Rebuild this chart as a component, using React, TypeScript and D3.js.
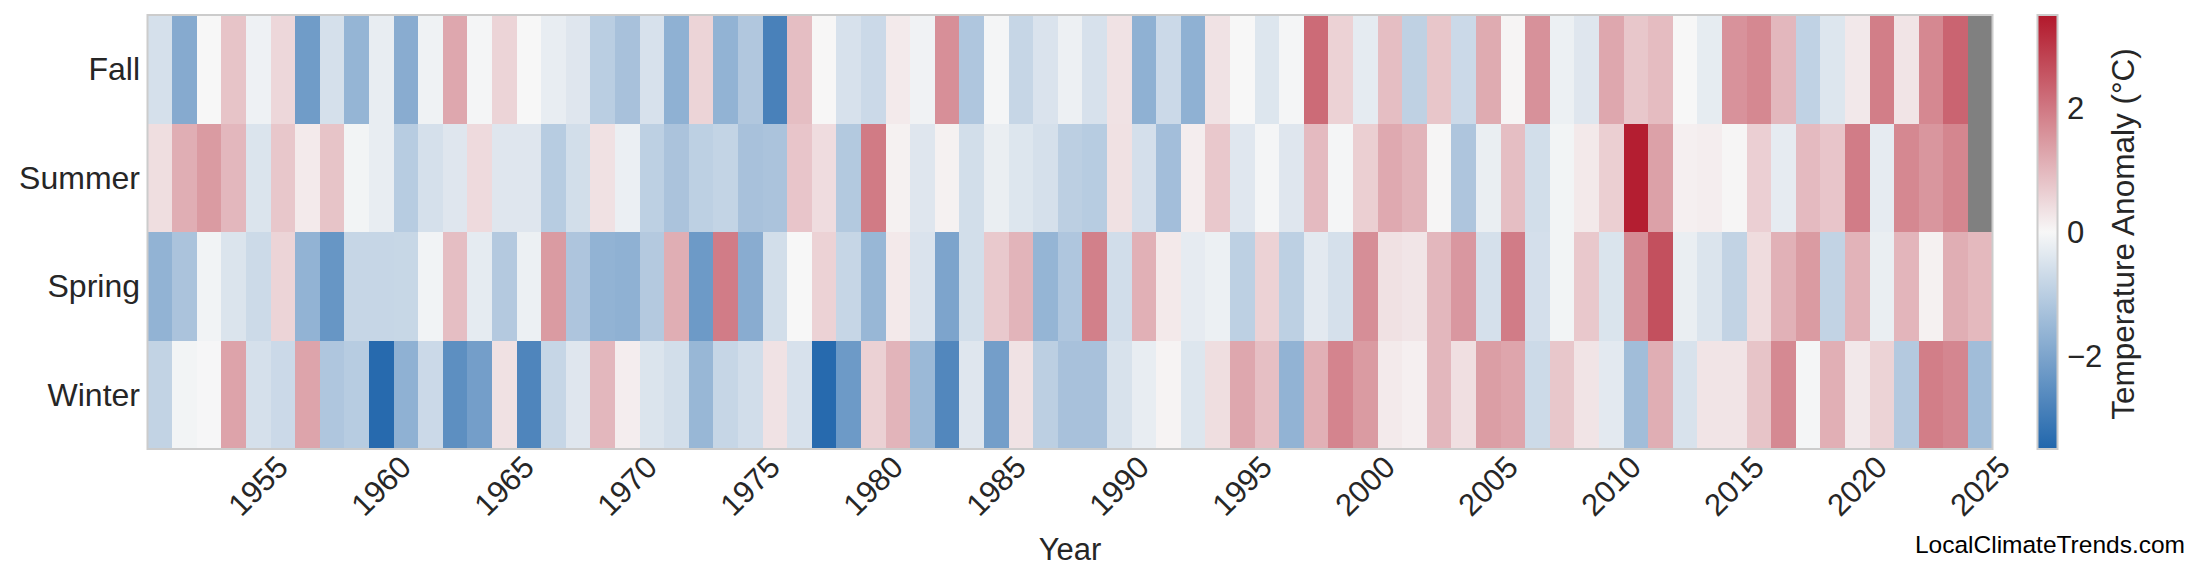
import React, { useEffect } from "react";
import * as d3 from "d3";

// ---------- data ----------
const years: number[] = d3.range(1951, 2026);
const seasons: string[] = ["Fall", "Summer", "Spring", "Winter"];

const fall: (number | null)[] = [
  -0.55, -1.85, 0.0, 0.8, -0.15, 0.5, -2.2, -0.55, -1.6, -0.25,
  -1.8, -0.13, 1.25, -0.05, 0.55, 0.0, -0.25, -0.4, -1.0, -1.3,
  -0.52, -1.7, 0.55, -1.65, -1.15, -2.85, 0.9, 0.02, -0.52, -0.72,
  0.2, -0.12, 1.63, -1.18, -0.05, -0.8, -0.48, -0.17, -0.52, 0.33,
  -1.7, -0.72, -1.7, 0.33, 0.0, -0.42, -0.05, 2.2, 0.58, -0.3,
  0.9, -0.92, 0.77, -0.72, 1.2, 0.05, 1.6, -0.18, -0.4, 1.25,
  0.75, 0.92, 0.0, -0.27, 1.58, 1.75, 1.0, -0.9, -0.42, 0.23,
  1.9, 0.3, 1.75, 2.3, null,
];

const summer: (number | null)[] = [
  0.4, 1.15, 1.45, 1.0, -0.45, 0.75, 0.2, 0.8, -0.08, -0.25,
  -1.05, -0.55, -0.4, 0.45, -0.4, -0.4, -1.05, -0.6, 0.35, -0.2,
  -0.95, -1.25, -0.95, -0.85, -1.3, -1.25, 0.78, 0.42, -1.12, 1.95,
  0.1, -0.4, 0.1, -0.6, -0.22, -0.42, -0.55, -0.97, -1.05, 0.35,
  -0.58, -1.37, 0.15, 0.73, -0.38, -0.05, -0.4, 0.95, -0.05, 0.63,
  1.22, 1.05, 0.03, -1.2, -0.22, 0.9, -0.6, -0.08, 0.22, 0.63,
  3.4, 1.35, 0.12, 0.15, 0.03, 0.62, -0.28, 0.95, 0.78, 1.93,
  -0.28, 1.75, 1.52, 1.78, null,
];

const spring: (number | null)[] = [
  -1.65, -1.25, -0.1, -0.45, -0.7, 0.55, -1.65, -2.35, -0.8, -0.8,
  -0.78, -0.1, 0.9, -0.3, -1.1, -0.18, 1.45, -1.2, -1.65, -1.7,
  -1.1, 1.15, -2.25, 1.93, -1.8, -0.6, 0.0, 0.58, -0.8, -1.55,
  0.22, -0.48, -2.0, -0.6, 0.72, 1.05, -1.6, -1.18, 1.87, -0.62,
  1.12, 0.22, -0.28, -0.18, -0.95, 0.58, -0.95, -0.33, -0.55, 1.65,
  0.35, 0.28, 1.0, 1.5, -0.55, 1.93, -0.58, -0.08, 0.73, -0.47,
  1.7, 2.62, -0.22, -0.45, -0.87, 0.43, 1.1, 1.45, -0.87, 1.07,
  -0.22, 1.03, 0.1, 1.15, 0.98,
];

const winter: (number | null)[] = [
  -0.87, -0.08, -0.02, 1.32, -0.55, -0.72, 1.3, -1.18, -1.05, -3.4,
  -1.7, -0.72, -2.52, -2.15, 0.35, -2.75, -0.8, -0.4, 1.0, 0.15,
  -0.45, -0.6, -1.55, -0.8, -0.62, 0.33, -0.53, -3.4, -2.25, 0.6,
  1.05, -1.5, -2.7, -0.4, -2.15, 0.33, -0.97, -1.3, -1.3, -0.5,
  -0.25, 0.07, -0.42, 0.4, 1.25, 0.88, -1.65, 1.12, 1.8, 1.45,
  0.2, 0.12, 1.0, 0.38, 1.4, 1.28, -0.7, 0.75, 0.3, -0.33,
  -1.4, 1.15, -0.5, 0.3, 0.3, 0.8, 1.73, -0.05, 1.13, 0.23,
  0.56, -1.1, 1.9, 1.77, -1.4,
];

const tickYears: number[] = [1955, 1960, 1965, 1970, 1975, 1980, 1985, 1990, 1995, 2000, 2005, 2010, 2015, 2020, 2025];
const colorbarTicks: number[] = [-2, 0, 2];
const colorDomain: number[] = [-3.5, 0, 3.5];
const colorRange: string[] = ["#2166ac", "#f7f7f7", "#b2182b"];

// ---------- layout ----------
const W = 2200;
const H = 585;
const X0 = 147.5;
const X1 = 1992.5;
const Y0 = 15;
const Y1 = 449;
const CB0 = 2037.5;
const CB1 = 2057.5;
const FONT = "'Liberation Sans', Arial, Helvetica, sans-serif";
const TXT = "#262626";
const FRAME = "#cccccc";

export default function App() {
  useEffect(() => {
    document.body.style.margin = "0";
  }, []);

  const seriesBySeason: Record<string, (number | null)[]> = {
    Fall: fall,
    Summer: summer,
    Spring: spring,
    Winter: winter,
  };

  const x = d3.scaleBand<number>().domain(years).range([X0, X1]).padding(0);
  const y = d3.scaleBand<string>().domain(seasons).range([Y0, Y1]).padding(0);
  const color = d3
    .scaleLinear<string>()
    .domain(colorDomain)
    .range(colorRange)
    .clamp(true);
  const cb = d3.scaleLinear().domain([colorDomain[0], colorDomain[2]]).range([Y1, Y0]);

  const bw = x.bandwidth();
  const bh = y.bandwidth();

  const cells: JSX.Element[] = [];
  seasons.forEach((s) => {
    const vals = seriesBySeason[s];
    years.forEach((yr, i) => {
      const v = vals[i];
      cells.push(
        <rect
          key={`${s}-${yr}`}
          x={x(yr)!}
          y={y(s)!}
          width={bw + 0.6}
          height={bh + 0.6}
          fill={v === null || v === undefined ? "#808080" : color(v)}
          shapeRendering="crispEdges"
        />
      );
    });
  });

  const gradStops = d3.range(0, 1.0001, 0.05).map((t) => {
    const v = colorDomain[0] + t * (colorDomain[2] - colorDomain[0]);
    return { offset: t, c: color(v) };
  });

  return (
    <svg
      width={W}
      height={H}
      viewBox={`0 0 ${W} ${H}`}
      style={{ position: "absolute", left: 0, top: 0, background: "#ffffff" }}
    >
      <defs>
        <linearGradient id="cbgrad" x1="0" y1="1" x2="0" y2="0">
          {gradStops.map((g, i) => (
            <stop key={i} offset={`${g.offset * 100}%`} stopColor={g.c} />
          ))}
        </linearGradient>
      </defs>
      <rect x={0} y={0} width={W} height={H} fill="#ffffff" />

      {/* heatmap cells */}
      <g>{cells}</g>
      <rect x={X0} y={Y0} width={X1 - X0} height={Y1 - Y0} fill="none" stroke={FRAME} strokeWidth={2} />

      {/* y tick labels */}
      {seasons.map((s) => (
        <text
          key={s}
          x={140}
          y={y(s)! + bh / 2}
          textAnchor="end"
          dominantBaseline="central"
          fontFamily={FONT}
          fontSize={32}
          fill={TXT}
        >
          {s}
        </text>
      ))}

      {/* x tick labels */}
      {tickYears.map((yr) => {
        const cx = x(yr)! + bw / 2;
        const cy = 486;
        return (
          <text
            key={yr}
            transform={`translate(${cx},${cy}) rotate(-45)`}
            textAnchor="middle"
            dominantBaseline="central"
            fontFamily={FONT}
            fontSize={31}
            fill={TXT}
          >
            {yr}
          </text>
        );
      })}

      {/* x axis title */}
      <text x={(X0 + X1) / 2} y={560} textAnchor="middle" fontFamily={FONT} fontSize={31} fill={TXT}>
        Year
      </text>

      {/* colorbar */}
      <rect x={CB0} y={Y0} width={CB1 - CB0} height={Y1 - Y0} fill="url(#cbgrad)" />
      <rect x={CB0} y={Y0} width={CB1 - CB0} height={Y1 - Y0} fill="none" stroke={FRAME} strokeWidth={2} />
      {colorbarTicks.map((t) => (
        <text
          key={t}
          x={2067}
          y={cb(t)}
          dominantBaseline="central"
          fontFamily={FONT}
          fontSize={31}
          fill={TXT}
        >
          {t < 0 ? `\u2212${Math.abs(t)}` : `${t}`}
        </text>
      ))}
      <text
        transform={`translate(2134,${(Y0 + Y1) / 2 + 2}) rotate(-90)`}
        textAnchor="middle"
        fontFamily={FONT}
        fontSize={31.5}
        fill={TXT}
      >
        Temperature Anomaly (°C)
      </text>

      {/* watermark */}
      <text x={2185} y={553} textAnchor="end" fontFamily={FONT} fontSize={24.5} fill="#000000">
        LocalClimateTrends.com
      </text>
    </svg>
  );
}
